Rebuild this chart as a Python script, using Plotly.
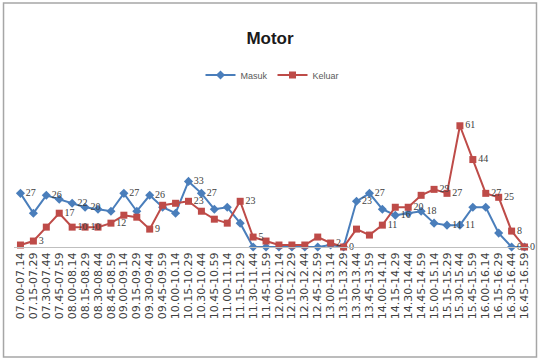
import plotly.graph_objects as go

# 15-minute counting intervals, 07.00 to 16.59
slots = [
    "07.00-07.14", "07.15-07.29", "07.30-07.44", "07.45-07.59",
    "08.00-08.14", "08.15-08.29", "08.30-08.44", "08.45-08.59",
    "09.00-09.14", "09.15-09.29", "09.30-09.44", "09.45-09.59",
    "10.00-10.14", "10.15-10.29", "10.30-10.44", "10.45-10.59",
    "11.00-11.14", "11.15-11.29", "11.30-11.44", "11.45-11.59",
    "12.00-12.14", "12.15-12.29", "12.30-12.44", "12.45-12.59",
    "13.00-13.14", "13.15-13.29", "13.30-13.44", "13.45-13.59",
    "14.00-14.14", "14.15-14.29", "14.30-14.44", "14.45-14.59",
    "15.00-15.14", "15.15-15.29", "15.30-15.44", "15.45-15.59",
    "16.00-16.14", "16.15-16.29", "16.30-16.44", "16.45-16.59",
]

masuk = [27, 17, 26, 24, 22, 20, 19, 18, 27, 18, 26, 20, 17, 33, 27, 19, 20, 12, 0, 0,
         0, 0, 0, 0, 1, 0, 23, 27, 19, 16, 17, 18, 12, 11, 11, 20, 20, 7, 0, 0]
keluar = [1, 3, 10, 17, 10, 10, 10, 12, 16, 15, 9, 21, 22, 23, 18, 14, 12, 23, 5, 3,
          1, 1, 1, 5, 2, 0, 9, 6, 11, 20, 20, 26, 29, 27, 61, 44, 27, 25, 8, 0]

# points whose value labels are printed
masuk_labelled = [0, 2, 4, 5, 8, 10, 13, 14, 25, 26, 27, 29, 31, 33, 34, 38]
keluar_labelled = [1, 3, 4, 5, 7, 10, 13, 17, 18, 24, 28, 30, 32, 33, 34, 35, 36, 37, 38, 39]

BLUE = "#4a7ebb"
RED = "#be4b48"


def labels(values, keep):
    return [str(v) if i in keep else "" for i, v in enumerate(values)]


fig = go.Figure()
fig.add_trace(go.Scatter(
    x=slots, y=masuk, name="Masuk", mode="lines+markers+text",
    line=dict(color=BLUE, width=2),
    marker=dict(symbol="diamond", size=7, color=BLUE),
    text=labels(masuk, masuk_labelled), textposition="middle right",
    textfont=dict(family="Liberation Serif", size=10, color="#404040"),
    cliponaxis=False,
))
fig.add_trace(go.Scatter(
    x=slots, y=keluar, name="Keluar", mode="lines+markers+text",
    line=dict(color=RED, width=2),
    marker=dict(symbol="square", size=7, color=RED),
    text=labels(keluar, keluar_labelled), textposition="middle right",
    textfont=dict(family="Liberation Serif", size=10, color="#404040"),
    cliponaxis=False,
))

W, H = 540, 360
ml, mr, mt, mb = 13.5, 8.5, 88, 113
pw, ph = W - ml - mr, H - mt - mb


def px(x):
    return (x - ml) / pw


def py(y):
    return (H - mb - y) / ph


fig.update_layout(
    width=W, height=H,
    margin=dict(l=ml, r=mr, t=mt, b=mb),
    paper_bgcolor="white", plot_bgcolor="white",
    font=dict(family="Liberation Sans", color="#404040"),
    title=dict(text="<b>Motor</b>", x=0.5, xanchor="center", y=1 - 38 / H, yanchor="middle",
               font=dict(family="Liberation Sans", size=17, color="#1a1a1a")),
    legend=dict(orientation="h", x=0.5, xanchor="center", y=py(75), yanchor="middle",
                font=dict(size=9, color="#595959"), itemwidth=30, tracegroupgap=0,
                bgcolor="rgba(0,0,0,0)"),
    xaxis=dict(type="category", range=[-0.5, 39.5], showgrid=False, tickangle=-90,
               tickmode="linear", dtick=1,
               showline=True, linecolor="#bfbfbf", linewidth=1, ticks="",
               tickfont=dict(family="DejaVu Sans", size=11, color="#404040")),
    yaxis=dict(range=[0, 80], showgrid=False, showticklabels=False, zeroline=False,
               showline=False, ticks=""),
    showlegend=True,
)

# chart border
fig.add_shape(type="rect", xref="paper", yref="paper",
              x0=px(3), x1=px(W - 3), y0=py(3), y1=py(H - 3),
              line=dict(color="#a6a6a6", width=1.5), layer="below")

fig.write_html("out.html")
